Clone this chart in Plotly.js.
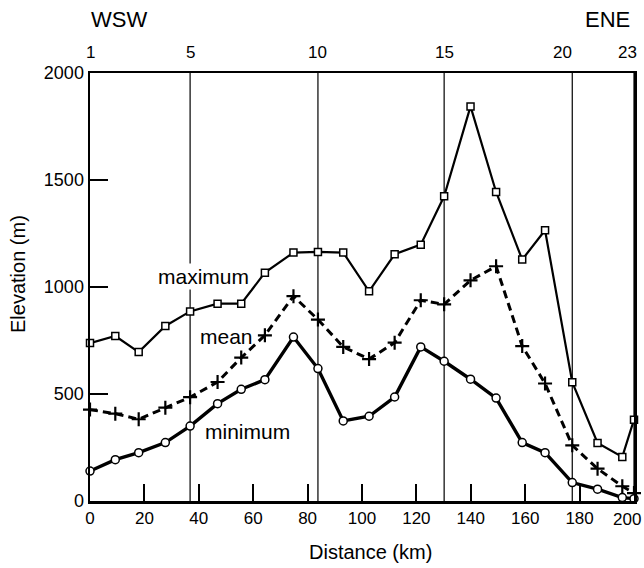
<!DOCTYPE html>
<html>
<head>
<meta charset="utf-8">
<script src="https://cdn.plot.ly/plotly-3.0.1.min.js"></script>
<style>html,body{margin:0;padding:0;background:#fff}#chart{width:644px;height:568px}</style>
</head>
<body>
<div id="chart"></div>
<script>
// profile numbers 1..23 and their distance along the section (km)
const profiles = [1,2,3,4,5,6,7,8,9,10,11,12,13,14,15,16,17,18,19,20,21,22,23];
const distance = [0, 9.3, 17.9, 27.7, 36.8, 46.9, 55.6, 64.3, 74.8, 83.8, 93.1, 102.6, 112.0, 121.6, 130.2, 139.9, 149.3, 158.9, 167.3, 177.3, 186.6, 195.7, 200];
const maximum = [738, 771, 696, 818, 886, 922, 922, 1067, 1161, 1164, 1161, 980, 1153, 1198, 1424, 1844, 1444, 1128, 1265, 555, 271, 206, 380];
const mean    = [427, 408, 382, 436, 485, 556, 670, 774, 957, 848, 720, 663, 740, 938, 919, 1031, 1097, 724, 549, 260, 151, 69, 37];
const minimum = [140, 193, 226, 273, 350, 455, 522, 567, 766, 619, 374, 396, 486, 720, 653, 569, 481, 273, 226, 86, 55, 16, 11];
// labelled profiles on the top axis
const topLabels = ['1', '5', '10', '15', '20', '23'];
const lineProfiles = [5, 10, 15, 20, 23];
const xTicks = [0, 20, 40, 60, 80, 100, 120, 140, 160, 180, 200];
const yTicks = [0, 500, 1000, 1500, 2000];

const FONT = 'Liberation Sans, Arial, Helvetica, sans-serif';
const topShift = {'20': -9.5, '23': -7};
const xMax = xTicks[xTicks.length - 1];

const traces = [
  {x: distance, y: maximum, mode: 'lines+markers', name: 'maximum', cliponaxis: false,
   line: {color: '#000', width: 2.2},
   marker: {symbol: 'square', size: 7, color: '#fff', line: {color: '#000', width: 1.5}}},
  {x: distance, y: mean, mode: 'lines+markers', name: 'mean', cliponaxis: false,
   line: {color: '#000', width: 3, dash: '8px,5px'},
   marker: {symbol: 'cross-thin', size: 10, color: '#000', line: {color: '#000', width: 2.2}}},
  {x: distance, y: minimum, mode: 'lines+markers', name: 'minimum', cliponaxis: false,
   line: {color: '#000', width: 3.4},
   marker: {symbol: 'circle', size: 8, color: '#fff', line: {color: '#000', width: 1.5}}}
];

const shapes = lineProfiles.map(p => ({
  type: 'line', xref: 'x', yref: 'paper', x0: distance[p-1], x1: distance[p-1], y0: 0, y1: 1,
  line: {color: '#000', width: 1.2}, layer: 'below'
}));

const annotations = topLabels.map(t => ({
  text: t, xref: 'x', yref: 'paper', x: distance[Number(t)-1], y: 1,
  xanchor: 'center', yanchor: 'middle', yshift: 21, xshift: topShift[t] || 0,
  showarrow: false, font: {family: FONT, size: 17, color: '#000'}
}));
annotations.push(
  {text: String(xMax), xref: 'x', yref: 'paper', x: xMax, y: 0, xanchor: 'right', yanchor: 'middle',
   xshift: 9, yshift: -18, showarrow: false, font: {family: FONT, size: 17, color: '#000'}},
  {text: 'WSW', xref: 'x', yref: 'paper', x: 0, y: 1, xanchor: 'left', yanchor: 'middle', yshift: 54, xshift: -1,
   showarrow: false, font: {family: FONT, size: 22, color: '#000'}},
  {text: 'ENE', xref: 'x', yref: 'paper', x: 200, y: 1, xanchor: 'right', yanchor: 'middle', yshift: 54, xshift: -2,
   showarrow: false, font: {family: FONT, size: 22, color: '#000'}},
  {text: 'maximum', x: 41.6, y: 1050, xanchor: 'center', yanchor: 'middle', showarrow: false, bgcolor: '#fff',
   font: {family: FONT, size: 21, color: '#000'}},
  {text: 'mean', x: 50.2, y: 770, xanchor: 'center', yanchor: 'middle', showarrow: false,
   font: {family: FONT, size: 21, color: '#000'}},
  {text: 'minimum', x: 58.0, y: 325, xanchor: 'center', yanchor: 'middle', showarrow: false,
   font: {family: FONT, size: 21, color: '#000'}},
  {text: 'Distance (km)', xref: 'paper', yref: 'paper', x: 0.5, y: 0, xanchor: 'center', yanchor: 'middle',
   xshift: 8, yshift: -51, showarrow: false, font: {family: FONT, size: 20, color: '#000'}},
  {text: 'Elevation (m)', xref: 'paper', yref: 'paper', x: 0, y: 0.5, xanchor: 'center', yanchor: 'middle',
   xshift: -72, yshift: 13, textangle: -90, showarrow: false, font: {family: FONT, size: 20, color: '#000'}}
);

const layout = {
  width: 644, height: 568,
  margin: {l: 90, r: 10, t: 73, b: 67},
  paper_bgcolor: '#fff', plot_bgcolor: '#fff',
  showlegend: false,
  font: {family: FONT, color: '#000'},
  xaxis: {
    range: [0, 200], tickvals: xTicks, ticktext: xTicks.map(v => v === xMax ? '' : String(v)),
    ticks: 'inside', ticklen: 17, tickwidth: 2, tickcolor: '#000',
    showline: true, linewidth: 2.5, linecolor: '#000', mirror: true,
    showgrid: false, zeroline: false,
    tickfont: {family: FONT, size: 17, color: '#000'}
  },
  yaxis: {
    range: [0, 2000], tickvals: yTicks, ticktext: yTicks.map(String),
    ticks: 'inside', ticklen: 18, tickwidth: 2, tickcolor: '#000',
    showline: true, linewidth: 2.5, linecolor: '#000', mirror: true,
    showgrid: false, zeroline: false, ticklabeloverflow: 'allow',
    tickfont: {family: FONT, size: 18, color: '#000'}
  },
  shapes: shapes,
  annotations: annotations
};

Plotly.newPlot('chart', traces, layout, {displayModeBar: false, staticPlot: true});
</script>
</body>
</html>
